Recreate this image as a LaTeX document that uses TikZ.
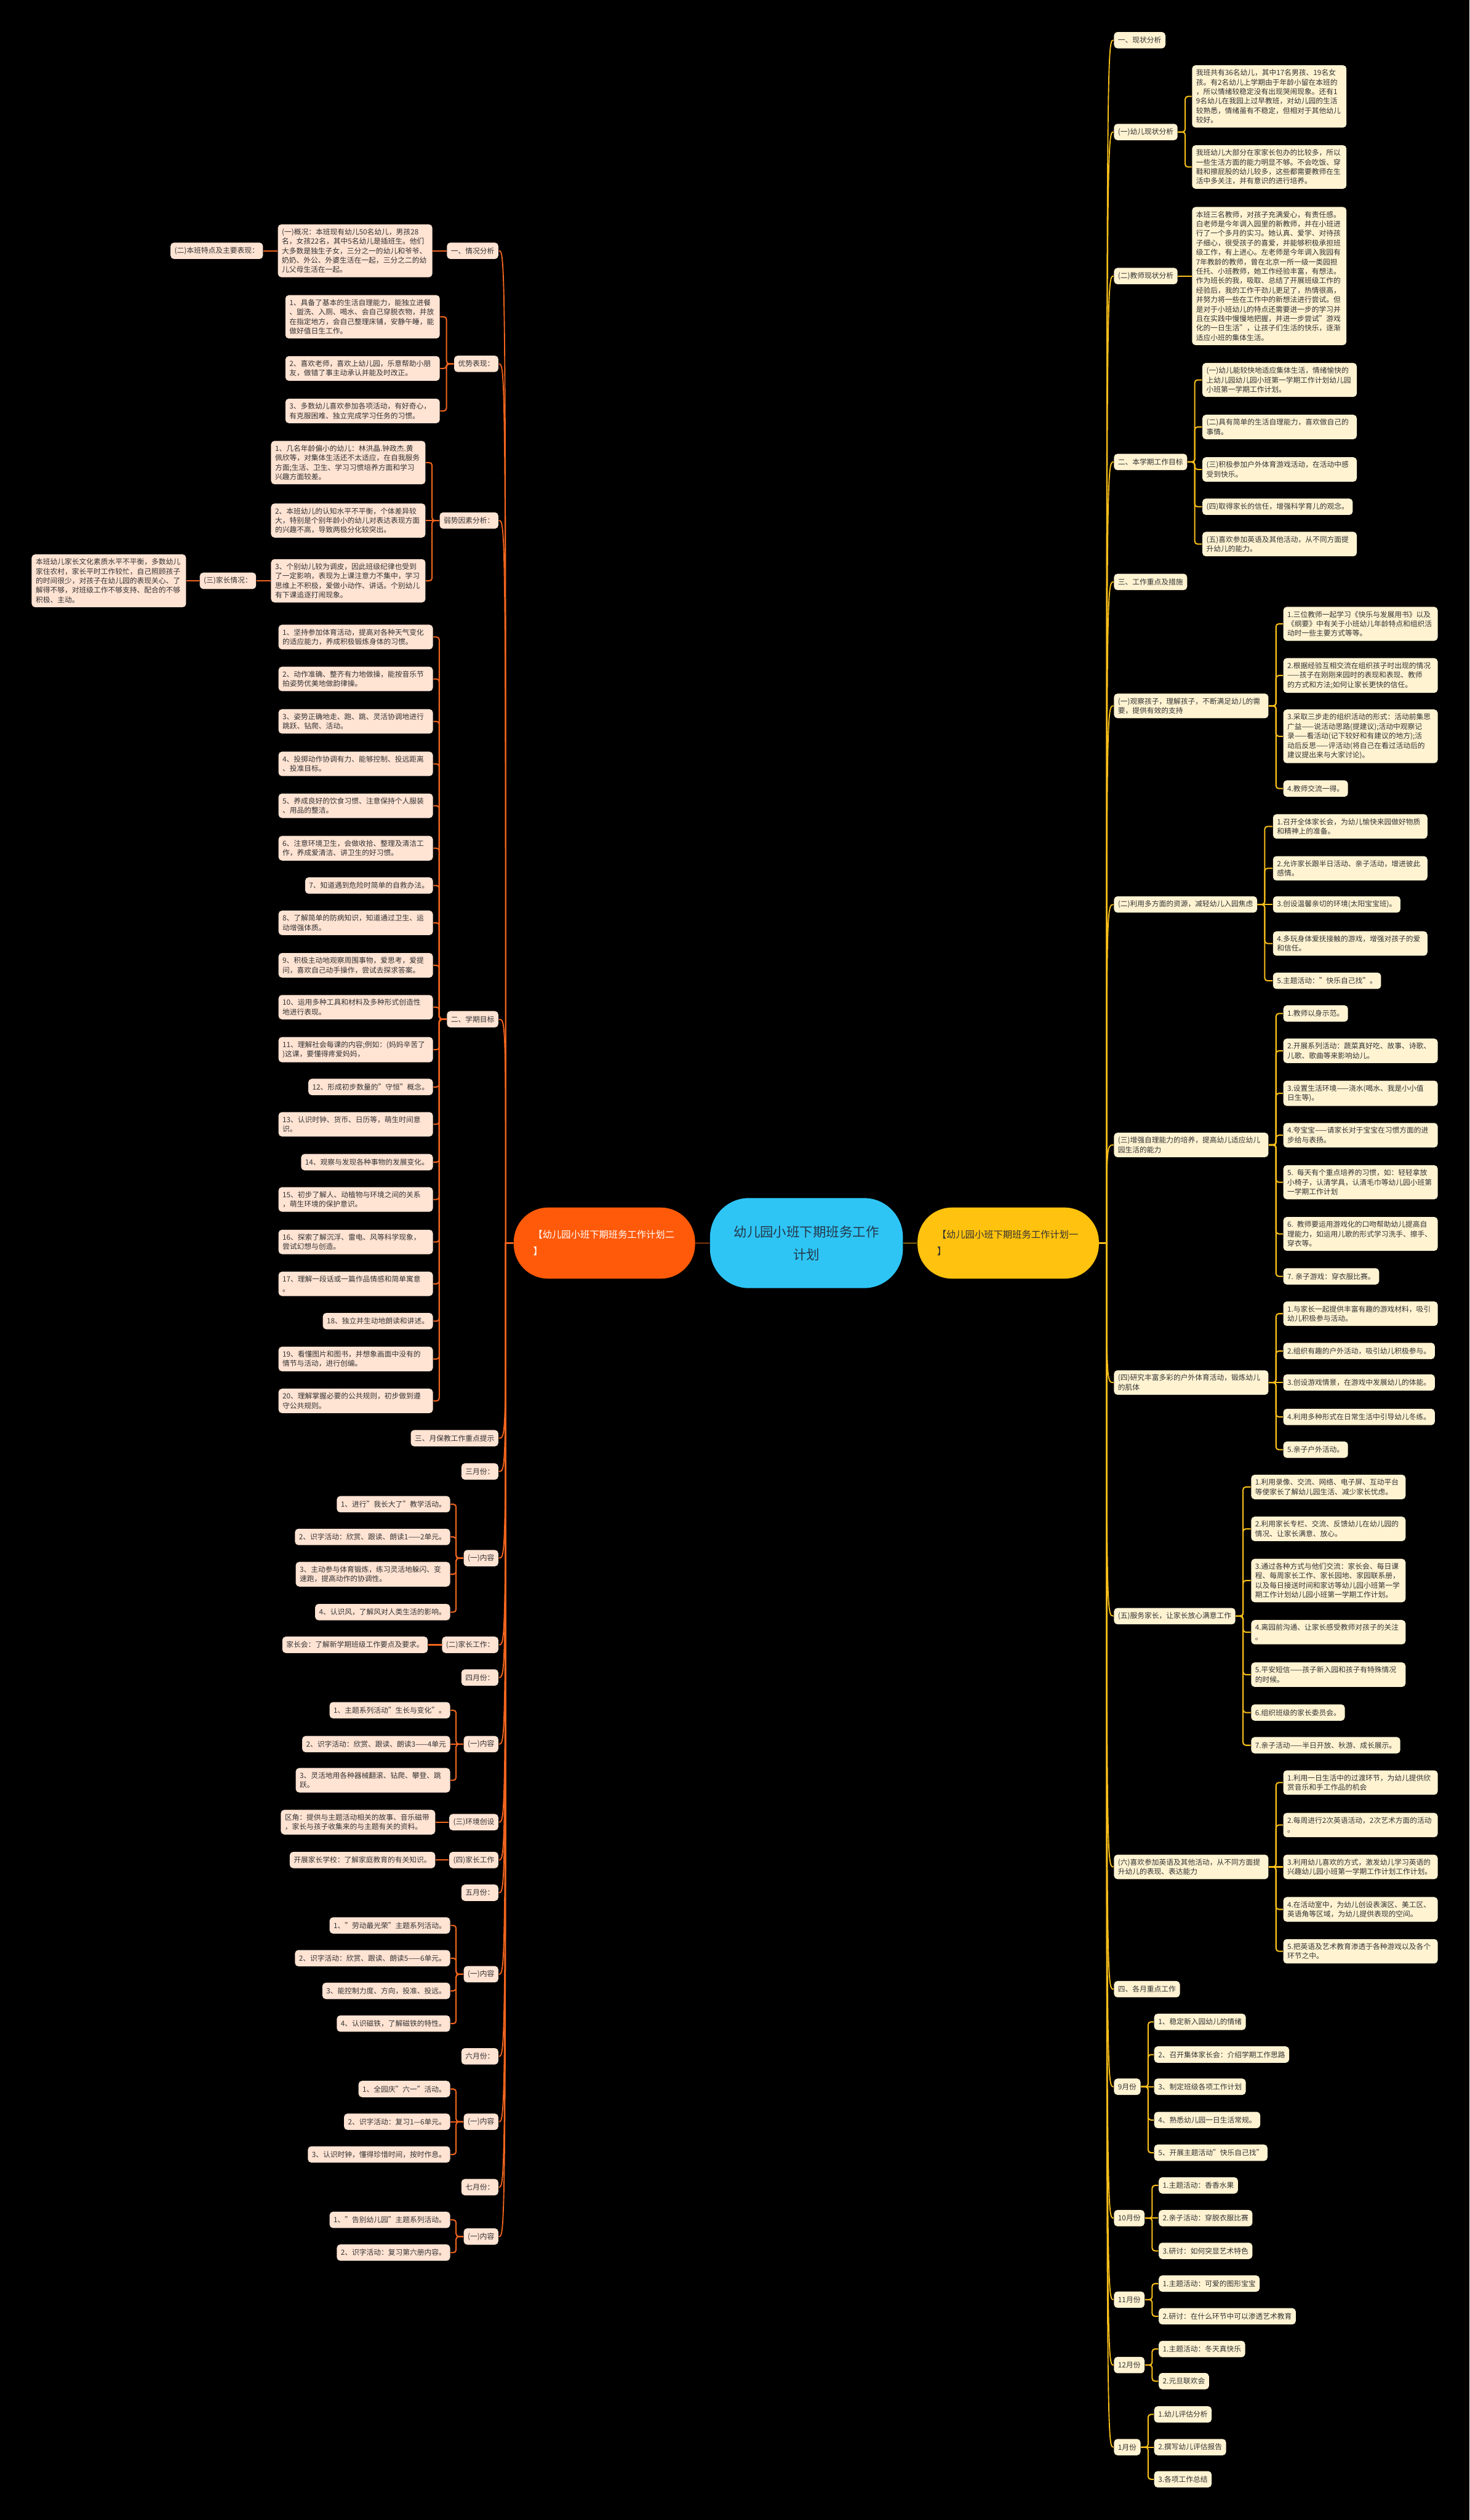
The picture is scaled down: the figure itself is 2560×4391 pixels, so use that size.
\documentclass[tikz,border=0pt]{standalone}
\usepackage{fontspec}
\setmainfont{Noto Sans CJK SC}
\usetikzlibrary{calc}
\definecolor{sky}{HTML}{2EC5F5}
\definecolor{hubink}{HTML}{24384A}
\definecolor{gold}{HTML}{FFC20E}
\definecolor{flame}{HTML}{FF5A0A}
\definecolor{goldln}{HTML}{F7BE1B}
\definecolor{flameln}{HTML}{F0641E}
\definecolor{cream}{HTML}{FFF3D2}
\definecolor{peach}{HTML}{FFE3D3}
\definecolor{ink}{HTML}{333333}
\tikzset{
  txt/.style={rectangle, rounded corners=1.5pt, text=ink, align=left, inner xsep=1.75pt,
              inner ysep=1.8pt, minimum height=7.125pt, font=\fontsize{3.15pt}{4.125pt}\selectfont},
  rb/.style={txt, fill=cream, anchor=west},
  rw/.style={rb, text width=63.75pt},
  lb/.style={txt, fill=peach, anchor=east},
  lw/.style={lb, text width=63.75pt},
  hub/.style={rectangle, rounded corners=17pt, fill=sky, text=hubink, minimum width=84pt,
              minimum height=39.25pt, align=center, font=\fontsize{5.75pt}{10pt}\selectfont},
  plan/.style={rectangle, rounded corners=15pt, minimum width=79pt, minimum height=31pt,
               text width=62pt, align=left, font=\fontsize{4.1pt}{7.25pt}\selectfont},
  yl/.style={draw=goldln, line width=0.55pt, rounded corners=1.2pt},
  ol/.style={draw=flameln, line width=0.55pt, rounded corners=1.2pt},
  ym/.style={draw=goldln, line width=0.5pt},
  om/.style={draw=flameln, line width=0.5pt},
}

\begin{document}
\begin{tikzpicture}[x=0.25pt,y=-0.25pt]
\fill[black] (0,0) rectangle (2560,4391);

% centre and the two plans
\node[hub] (root) at (1405,2166) {幼儿园小班下期班务工作\\计划};
\node[plan, fill=gold, text=ink] (planA) at (1756.5,2166) {【幼儿园小班下期班务工作计划一\\】};
\node[plan, fill=flame, text=white] (planB) at (1053,2166) {【幼儿园小班下期班务工作计划二\\】};
\coordinate (rs) at (1928,2166);
\coordinate (ls) at (881,2166);
\draw[ym] (root.east) -- (planA.west);
\draw[om] (root.west) -- (planB.east);

% plan one
\node[rb] (r1) at (1940,70) {一、现状分析};
\node[rb] (r2) at (1940,230) {(一)幼儿现状分析};
\node[rw] (r2a) at (2076,168) {我班共有36名幼儿，其中17名男孩、19名女\\孩。有2名幼儿上学期由于年龄小留在本班的\\，所以情绪较稳定没有出现哭闹现象。还有1\\9名幼儿在我园上过早教班，对幼儿园的生活\\较熟悉，情绪虽有不稳定，但相对于其他幼儿\\较好。};
\node[rw] (r2b) at (2076,291) {我班幼儿大部分在家家长包办的比较多，所以\\一些生活方面的能力明显不够。不会吃饭、穿\\鞋和擦屁股的幼儿较多，这些都需要教师在生\\活中多关注，并有意识的进行培养。};
\node[rb] (r3) at (1940,481) {(二)教师现状分析};
\node[rw] (r3a) at (2076,481) {本班三名教师，对孩子充满爱心，有责任感。\\白老师是今年调入园里的新教师，并在小班进\\行了一个多月的实习。她认真、爱学、对待孩\\子细心，很受孩子的喜爱，并能够积极承担班\\级工作，有上进心。左老师是今年调入我园有\\7年教龄的教师，曾在北京一所一级一类园担\\任托、小班教师，她工作经验丰富，有想法。\\作为班长的我，吸取、总结了开展班级工作的\\经验后，我的工作干劲儿更足了，热情很高，\\并努力将一些在工作中的新想法进行尝试。但\\是对于小班幼儿的特点还需要进一步的学习并\\且在实践中慢慢地把握，并进一步尝试"游戏\\化的一日生活"，让孩子们生活的快乐，逐渐\\适应小班的集体生活。};
\node[rb] (r4) at (1940,805) {二、本学期工作目标};
\node[rw] (r4a) at (2094,662) {(一)幼儿能较快地适应集体生活，情绪愉快的\\上幼儿园幼儿园小班第一学期工作计划幼儿园\\小班第一学期工作计划。};
\node[rw] (r4b) at (2094,744) {(二)具有简单的生活自理能力，喜欢做自己的\\事情。};
\node[rw] (r4c) at (2094,818) {(三)积极参加户外体育游戏活动，在活动中感\\受到快乐。};
\node[rb] (r4d) at (2094,883) {(四)取得家长的信任，增强科学育儿的观念。};
\node[rw] (r4e) at (2094,948) {(五)喜欢参加英语及其他活动，从不同方面提\\升幼儿的能力。};
\node[rb] (r5) at (1940,1014) {三、工作重点及措施};
\node[rw] (r6) at (1940,1230) {(一)观察孩子，理解孩子，不断满足幼儿的需\\要，提供有效的支持};
\node[rw] (r6a) at (2235,1087) {1.三位教师一起学习《快乐与发展用书》以及\\《纲要》中有关于小班幼儿年龄特点和组织活\\动时一些主要方式等等。};
\node[rw] (r6b) at (2235,1177) {2.根据经验互相交流在组织孩子时出现的情况\\——孩子在刚刚来园时的表现和表现、教师\\的方式和方法;如何让家长更快的信任。};
\node[rw] (r6c) at (2235,1283) {3.采取三步走的组织活动的形式：活动前集思\\广益——说活动思路(提建议);活动中观察记\\录——看活动(记下较好和有建议的地方);活\\动后反思——评活动(将自己在看过活动后的\\建议提出来与大家讨论)。};
\node[rb] (r6d) at (2235,1374) {4.教师交流一得。};
\node[rb] (r7) at (1940,1576) {(二)利用多方面的资源，减轻幼儿入园焦虑};
\node[rw] (r7a) at (2217,1440) {1.召开全体家长会，为幼儿愉快来园做好物质\\和精神上的准备。};
\node[rw] (r7b) at (2217,1513) {2.允许家长跟半日活动、亲子活动，增进彼此\\感情。};
\node[rb] (r7c) at (2217,1576) {3.创设温馨亲切的环境(太阳宝宝班)。};
\node[rw] (r7d) at (2217,1644) {4.多玩身体爱抚接触的游戏，增强对孩子的爱\\和信任。};
\node[rb] (r7e) at (2217,1709) {5.主题活动："快乐自己找"。};
\node[rw] (r8) at (1940,1995) {(三)增强自理能力的培养，提高幼儿适应幼儿\\园生活的能力};
\node[rb] (r8a) at (2235,1766) {1.教师以身示范。};
\node[rw] (r8b) at (2235,1831) {2.开展系列活动：蔬菜真好吃、故事、诗歌、\\儿歌、歌曲等来影响幼儿。};
\node[rw] (r8c) at (2235,1905) {3.设置生活环境——浇水(喝水、我是小小值\\日生等)。};
\node[rw] (r8d) at (2235,1978) {4.夸宝宝——请家长对于宝宝在习惯方面的进\\步给与表扬。};
\node[rw] (r8e) at (2235,2060) {5. 每天有个重点培养的习惯，如：轻轻拿放\\小椅子，认清学具，认清毛巾等幼儿园小班第\\一学期工作计划};
\node[rw] (r8f) at (2235,2150) {6. 教师要运用游戏化的口吻帮助幼儿提高自\\理能力，如运用儿歌的形式学习洗手、擦手、\\穿衣等。};
\node[rb] (r8g) at (2235,2224) {7. 亲子游戏：穿衣服比赛。};
\node[rw] (r9) at (1940,2409) {(四)研究丰富多彩的户外体育活动，锻炼幼儿\\的肌体};
\node[rw] (r9a) at (2235,2289) {1.与家长一起提供丰富有趣的游戏材料，吸引\\幼儿积极参与活动。};
\node[rb] (r9b) at (2235,2354) {2.组织有趣的户外活动，吸引幼儿积极参与。};
\node[rb] (r9c) at (2235,2409) {3.创设游戏情景，在游戏中发展幼儿的体能。};
\node[rb] (r9d) at (2235,2469) {4.利用多种形式在日常生活中引导幼儿冬练。};
\node[rb] (r9e) at (2235,2526) {5.亲子户外活动。};
\node[rb] (r10) at (1940,2816) {(五)服务家长，让家长放心满意工作};
\node[rw] (r10a) at (2179,2591) {1.利用录像、交流、网络、电子屏、互动平台\\等使家长了解幼儿园生活、减少家长忧虑。};
\node[rw] (r10b) at (2179,2664) {2.利用家长专栏、交流、反馈幼儿在幼儿园的\\情况、让家长满意、放心。};
\node[rw] (r10c) at (2179,2754) {3.通过各种方式与他们交流：家长会、每日课\\程、每周家长工作、家长园地、家园联系册，\\以及每日接送时间和家访等幼儿园小班第一学\\期工作计划幼儿园小班第一学期工作计划。};
\node[rw] (r10d) at (2179,2844) {4.离园前沟通、让家长感受教师对孩子的关注\\。};
\node[rw] (r10e) at (2179,2918) {5.平安短信——孩子新入园和孩子有特殊情况\\的时候。};
\node[rb] (r10f) at (2179,2984) {6.组织班级的家长委员会。};
\node[rb] (r10g) at (2179,3041) {7.亲子活动——半日开放、秋游、成长展示。};
\node[rw] (r11) at (1940,3253) {(六)喜欢参加英语及其他活动，从不同方面提\\升幼儿的表现、表达能力};
\node[rw] (r11a) at (2235,3106) {1.利用一日生活中的过渡环节，为幼儿提供欣\\赏音乐和手工作品的机会};
\node[rw] (r11b) at (2235,3180) {2.每周进行2次英语活动，2次艺术方面的活动\\。};
\node[rw] (r11c) at (2235,3253) {3.利用幼儿喜欢的方式，激发幼儿学习英语的\\兴趣幼儿园小班第一学期工作计划工作计划。};
\node[rw] (r11d) at (2235,3327) {4.在活动室中，为幼儿创设表演区、美工区、\\英语角等区域，为幼儿提供表现的空间。};
\node[rw] (r11e) at (2235,3400) {5.把英语及艺术教育渗透于各种游戏以及各个\\环节之中。};
\node[rb] (r12) at (1940,3466) {四、各月重点工作};
\node[rb] (r13) at (1940,3636) {9月份};
\node[rb] (r13a) at (2010,3523) {1、稳定新入园幼儿的情绪};
\node[rb] (r13b) at (2010,3580) {2、召开集体家长会：介绍学期工作思路};
\node[rb] (r13c) at (2010,3636) {3、制定班级各项工作计划};
\node[rb] (r13d) at (2010,3694) {4、熟悉幼儿园一日生活常规。};
\node[rb] (r13e) at (2010,3751) {5、开展主题活动"快乐自己找"};
\node[rb] (r14) at (1940,3865) {10月份};
\node[rb] (r14a) at (2018,3808) {1.主题活动：香香水果};
\node[rb] (r14b) at (2018,3865) {2.亲子活动：穿脱衣服比赛};
\node[rb] (r14c) at (2018,3922) {3.研讨：如何突显艺术特色};
\node[rb] (r15) at (1940,4007) {11月份};
\node[rb] (r15a) at (2018,3979) {1.主题活动：可爱的图形宝宝};
\node[rb] (r15b) at (2018,4036) {2.研讨：在什么环节中可以渗透艺术教育};
\node[rb] (r16) at (1940,4121) {12月份};
\node[rb] (r16a) at (2018,4093) {1.主题活动：冬天真快乐};
\node[rb] (r16b) at (2018,4149) {2.元旦联欢会};
\node[rb] (r17) at (1940,4264) {1月份};
\node[rb] (r17a) at (2010,4207) {1.幼儿评估分析};
\node[rb] (r17b) at (2010,4264) {2.撰写幼儿评估报告};
\node[rb] (r17c) at (2010,4320) {3.各项工作总结};

% plan two
\node[lb] (l1) at (869,437) {一、情况分析};
\node[lw] (l1a) at (754,437) {(一)概况：本班现有幼儿50名幼儿，男孩28\\名，女孩22名，其中5名幼儿是插班生。他们\\大多数是独生子女，三分之一的幼儿和爷爷、\\奶奶、外公、外婆生活在一起，三分之二的幼\\儿父母生活在一起。};
\node[lb] (l1b) at (459,437) {(二)本班特点及主要表现：};
\node[lb] (l2) at (869,634) {优势表现：};
\node[lw] (l2a) at (767,552) {1、具备了基本的生活自理能力，能独立进餐\\、盥洗、入厕、喝水、会自己穿脱衣物，并放\\在指定地方，会自己整理床铺，安静午睡，能\\做好值日生工作。};
\node[lw] (l2b) at (767,642) {2、喜欢老师，喜欢上幼儿园，乐意帮助小朋\\友，做错了事主动承认并能及时改正。};
\node[lw] (l2c) at (767,716) {3、多数幼儿喜欢参加各项活动，有好奇心，\\有克服困难、独立完成学习任务的习惯。};
\node[lb] (l3) at (869,907) {弱势因素分析：};
\node[lw] (l3a) at (742,806) {1、几名年龄偏小的幼儿：林洪晶.钟政杰.黄\\佩欣等，对集体生活还不太适应，在自我服务\\方面;生活、卫生、学习习惯培养方面和学习\\兴趣方面较差。};
\node[lw] (l3b) at (742,907) {2、本班幼儿的认知水平不平衡，个体差异较\\大，特别是个别年龄小的幼儿对表达表现方面\\的兴趣不高，导致两极分化较突出。};
\node[lw] (l3c) at (742,1012) {3、个别幼儿较为调皮，因此班级纪律也受到\\了一定影响，表现为上课注意力不集中，学习\\思维上不积极，爱做小动作、讲话。个别幼儿\\有下课追逐打闹现象。};
\node[lb] (l3d) at (447,1012) {(三)家长情况：};
\node[lw] (l3e) at (325,1012) {本班幼儿家长文化素质水平不平衡，多数幼儿\\家住农村，家长平时工作较忙，自己照顾孩子\\的时间很少，对孩子在幼儿园的表现关心、了\\解得不够，对班级工作不够支持、配合的不够\\积极、主动。};
\node[lb] (l4) at (869,1776) {二、学期目标};
\node[lw] (g1) at (755,1110) {1、坚持参加体育活动，提高对各种天气变化\\的适应能力，养成积极锻炼身体的习惯。};
\node[lw] (g2) at (755,1183) {2、动作准确、整齐有力地做操，能按音乐节\\拍姿势优美地做韵律操。};
\node[lw] (g3) at (755,1257) {3、姿势正确地走、跑、跳、灵活协调地进行\\跳跃、钻爬、活动。};
\node[lw] (g4) at (755,1331) {4、投掷动作协调有力、能够控制、投远距离\\、投准目标。};
\node[lw] (g5) at (755,1404) {5、养成良好的饮食习惯、注意保持个人服装\\、用品的整洁。};
\node[lw] (g6) at (755,1478) {6、注意环境卫生，会做收拾、整理及清洁工\\作，养成爱清洁、讲卫生的好习惯。};
\node[lb] (g7) at (755,1543) {7、知道遇到危险时简单的自救办法。};
\node[lw] (g8) at (755,1608) {8、了解简单的防病知识，知道通过卫生、运\\动增强体质。};
\node[lw] (g9) at (755,1682) {9、积极主动地观察周围事物，爱思考，爱提\\问，喜欢自己动手操作，尝试去探求答案。};
\node[lw] (g10) at (755,1755) {10、运用多种工具和材料及多种形式创造性\\地进行表现。};
\node[lw] (g11) at (755,1829) {11、理解社会每课的内容;例如：(妈妈辛苦了\\)这课，要懂得疼爱妈妈，};
\node[lb] (g12) at (755,1894) {12、形成初步数量的"守恒"概念。};
\node[lw] (g13) at (755,1959) {13、认识时钟、货币、日历等，萌生时间意\\识。};
\node[lb] (g14) at (755,2025) {14、观察与发现各种事物的发展变化。};
\node[lw] (g15) at (755,2090) {15、初步了解人、动植物与环境之间的关系\\，萌生环境的保护意识。};
\node[lw] (g16) at (755,2164) {16、探索了解沉浮、雷电、风等科学现象，\\尝试幻想与创造。};
\node[lw] (g17) at (755,2237) {17、理解一段话或一篇作品情感和简单寓意\\。};
\node[lb] (g18) at (755,2302) {18、独立并生动地朗读和讲述。};
\node[lw] (g19) at (755,2368) {19、看懂图片和图书，并想象画面中没有的\\情节与活动，进行创编。};
\node[lw] (g20) at (755,2441) {20、理解掌握必要的公共规则，初步做到遵\\守公共规则。};
\node[lb] (l5) at (869,2506) {三、月保教工作重点提示};
\node[lb] (l6) at (869,2564) {三月份：};
\node[lb] (l7) at (869,2715) {(一)内容};
\node[lb] (l7a) at (785,2621) {1、进行"我长大了"教学活动。};
\node[lb] (l7b) at (785,2678) {2、识字活动：欣赏、跟读、朗读1——2单元。};
\node[lw] (l7c) at (785,2743) {3、主动参与体育锻炼，练习灵活地躲闪、变\\速跑，提高动作的协调性。};
\node[lb] (l7d) at (785,2809) {4、认识风，了解风对人类生活的影响。};
\node[lb] (l8) at (869,2866) {(二)家长工作：};
\node[lb] (l8a) at (746,2866) {家长会：了解新学期班级工作要点及要求。};
\node[lb] (l9) at (869,2923) {四月份：};
\node[lb] (l10) at (869,3039) {(一)内容};
\node[lb] (l10a) at (785,2980) {1、主题系列活动"生长与变化"。};
\node[lb] (l10b) at (785,3039) {2、识字活动：欣赏、跟读、朗读3——4单元};
\node[lw] (l10c) at (785,3102) {3、灵活地用各种器械翻滚、钻爬、攀登、跳\\跃。};
\node[lb] (l11) at (869,3175) {(三)环境创设};
\node[lw] (l11a) at (759,3175) {区角：提供与主题活动相关的故事、音乐磁带\\，家长与孩子收集来的与主题有关的资料。};
\node[lb] (l12) at (869,3241) {(四)家长工作};
\node[lb] (l12a) at (759,3241) {开展家长学校：了解家庭教育的有关知识。};
\node[lb] (l13) at (869,3298) {五月份：};
\node[lb] (l14) at (869,3440) {(一)内容};
\node[lb] (l14a) at (785,3355) {1、"劳动最光荣"主题系列活动。};
\node[lb] (l14b) at (785,3412) {2、识字活动：欣赏、跟读、朗读5——6单元。};
\node[lb] (l14c) at (785,3469) {3、能控制力度、方向，投准、投远。};
\node[lb] (l14d) at (785,3526) {4、认识磁铁，了解磁铁的特性。};
\node[lb] (l15) at (869,3583) {六月份：};
\node[lb] (l16) at (869,3697) {(一)内容};
\node[lb] (l16a) at (785,3640) {1、全园庆"六一"活动。};
\node[lb] (l16b) at (785,3697) {2、识字活动：复习1—6单元。};
\node[lb] (l16c) at (785,3754) {3、认识时钟，懂得珍惜时间，按时作息。};
\node[lb] (l17) at (869,3811) {七月份：};
\node[lb] (l18) at (869,3897) {(一)内容};
\node[lb] (l18a) at (785,3868) {1、"告别幼儿园"主题系列活动。};
\node[lb] (l18b) at (785,3925) {2、识字活动：复习第六册内容。};

% main branches
\foreach \n in {r1,r2,r3,r4,r5,r6,r7,r8,r9,r10,r11,r12,r13,r14,r15,r16,r17}
  \draw[ym] (planA.east) -- (rs) .. controls (rs |- \n.west) .. (\n.west);
\foreach \n in {l1,l2,l3,l4,l5,l6,l7,l8,l9,l10,l11,l12,l13,l14,l15,l16,l17,l18}
  \draw[om] (planB.west) -- (ls) .. controls (ls |- \n.east) .. (\n.east);

% sub branches, right
\foreach \k in {r2a,r2b} \draw[yl] (r2.east) -- ++(12.5,0) |- (\k.west);
\draw[yl] (r3.east) -- (r3a.west);
\foreach \k in {r4a,r4b,r4c,r4d,r4e} \draw[yl] (r4.east) -- ++(12.5,0) |- (\k.west);
\foreach \k in {r6a,r6b,r6c,r6d} \draw[yl] (r6.east) -- ++(12.5,0) |- (\k.west);
\foreach \k in {r7a,r7b,r7d,r7e} \draw[yl] (r7.east) -- ++(12.5,0) |- (\k.west);
\draw[yl] (r7.east) -- (r7c.west);
\foreach \k in {r8a,r8b,r8c,r8d,r8e,r8f,r8g} \draw[yl] (r8.east) -- ++(12.5,0) |- (\k.west);
\foreach \k in {r9a,r9b,r9d,r9e} \draw[yl] (r9.east) -- ++(12.5,0) |- (\k.west);
\draw[yl] (r9.east) -- (r9c.west);
\foreach \k in {r10a,r10b,r10c,r10d,r10e,r10f,r10g} \draw[yl] (r10.east) -- ++(12.5,0) |- (\k.west);
\foreach \k in {r11a,r11b,r11d,r11e} \draw[yl] (r11.east) -- ++(12.5,0) |- (\k.west);
\draw[yl] (r11.east) -- (r11c.west);
\foreach \k in {r13a,r13b,r13d,r13e} \draw[yl] (r13.east) -- ++(12.5,0) |- (\k.west);
\draw[yl] (r13.east) -- (r13c.west);
\foreach \k in {r14a,r14c} \draw[yl] (r14.east) -- ++(12.5,0) |- (\k.west);
\draw[yl] (r14.east) -- (r14b.west);
\foreach \k in {r15a,r15b} \draw[yl] (r15.east) -- ++(12.5,0) |- (\k.west);
\foreach \k in {r16a,r16b} \draw[yl] (r16.east) -- ++(12.5,0) |- (\k.west);
\foreach \k in {r17a,r17c} \draw[yl] (r17.east) -- ++(12.5,0) |- (\k.west);
\draw[yl] (r17.east) -- (r17b.west);

% sub branches, left
\draw[ol] (l1.west) -- (l1a.east);
\draw[ol] (l1a.west) -- (l1b.east);
\foreach \k in {l2a,l2b,l2c} \draw[ol] (l2.west) -- ++(-12.5,0) |- (\k.east);
\foreach \k in {l3a,l3c} \draw[ol] (l3.west) -- ++(-12.5,0) |- (\k.east);
\draw[ol] (l3.west) -- (l3b.east);
\draw[ol] (l3c.west) -- (l3d.east);
\draw[ol] (l3d.west) -- (l3e.east);
\foreach \i in {1,...,20} \draw[ol] (l4.west) -- ++(-12.5,0) |- (g\i.east);
\foreach \k in {l7a,l7b,l7c,l7d} \draw[ol] (l7.west) -- ++(-12.5,0) |- (\k.east);
\draw[ol] (l8.west) -- (l8a.east);
\foreach \k in {l10a,l10c} \draw[ol] (l10.west) -- ++(-12.5,0) |- (\k.east);
\draw[ol] (l10.west) -- (l10b.east);
\draw[ol] (l11.west) -- (l11a.east);
\draw[ol] (l12.west) -- (l12a.east);
\foreach \k in {l14a,l14b,l14c,l14d} \draw[ol] (l14.west) -- ++(-12.5,0) |- (\k.east);
\foreach \k in {l16a,l16c} \draw[ol] (l16.west) -- ++(-12.5,0) |- (\k.east);
\draw[ol] (l16.west) -- (l16b.east);
\foreach \k in {l18a,l18b} \draw[ol] (l18.west) -- ++(-12.5,0) |- (\k.east);
\end{tikzpicture}
\end{document}
